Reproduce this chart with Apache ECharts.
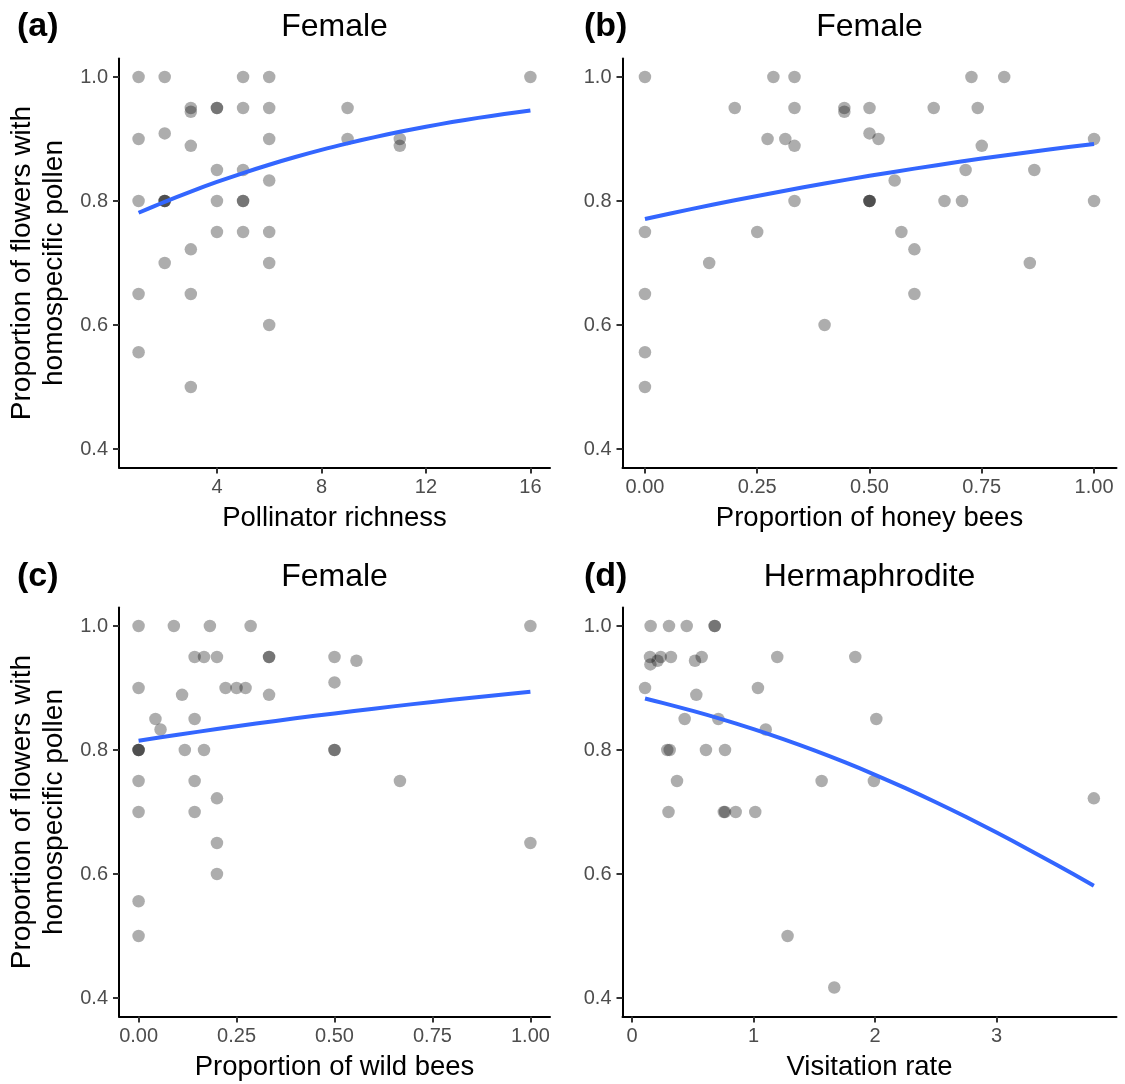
<!DOCTYPE html>
<html>
<head>
<meta charset="utf-8">
<script src="https://cdn.jsdelivr.net/npm/echarts@6/dist/echarts.min.js"></script>
<style>html,body{margin:0;padding:0;background:#fff;}#c{width:1125px;height:1084px;}</style>
</head>
<body>
<div id="c"></div>
<script>
// ---- Panel (a): Pollinator richness ----
const aX = [1,1,1,1,1, 2,2,2,2,2,2, 3,3,3,3,3,3, 4,4,4,4,4, 5,5,5,5,5,5, 6,6,6,6,6,6,6, 9,9, 11,11, 16];
const aY = [1.0,0.9,0.8,0.65,0.556, 1.0,0.909,0.8,0.8,0.8,0.7, 0.95,0.944,0.889,0.722,0.65,0.5, 0.95,0.95,0.85,0.8,0.75, 1.0,0.95,0.85,0.8,0.8,0.75, 1.0,0.95,0.9,0.833,0.75,0.7,0.6, 0.95,0.9, 0.9,0.889, 1.0];
const aFitX = [1,2,3,4,5,6,7,8,9,10,11,12,13,14,15,16];
const aFitY = [0.7811,0.7987,0.8152,0.8307,0.8451,0.8585,0.8709,0.8824,0.8929,0.9027,0.9116,0.9198,0.9273,0.9341,0.9403,0.9460];

// ---- Panel (b): Proportion of honey bees ----
const bX = [0,0.286,0.333,0.727,0.8, 0.2,0.333,0.444,0.444,0.5,0.643,0.741, 0.273,0.3125,0.52,1.0,0.5, 0.333,0.75, 0.714,0.867, 0.556, 0.333,0.5,0.5,0.5,0.667,0.706,1.0, 0,0.25,0.571, 0.6, 0.143,0.857, 0,0.6, 0.4, 0, 0];
const bY = [1.0,1.0,1.0,1.0,1.0, 0.95,0.95,0.95,0.944,0.95,0.95,0.95, 0.9,0.9,0.9,0.9,0.909, 0.889,0.889, 0.85,0.85, 0.833, 0.8,0.8,0.8,0.8,0.8,0.8,0.8, 0.75,0.75,0.75, 0.722, 0.7,0.7, 0.65,0.65, 0.6, 0.556, 0.5];
const bFitX = [0,0.1,0.2,0.3,0.4,0.5,0.6,0.7,0.8,0.9,1.0];
const bFitY = [0.771,0.7865,0.8012,0.815,0.8282,0.8406,0.8522,0.8632,0.8735,0.883,0.892];

// ---- Panel (c): Proportion of wild bees ----
const cX = [0,0.09,0.182,0.286,1.0, 0.143,0.167,0.2,0.333,0.333,0.5,0.556, 0.5, 0,0.222,0.25,0.273, 0.111,0.333, 0.043,0.143, 0.056, 0,0,0,0.118,0.167,0.5,0.5, 0,0.143,0.667, 0.2, 0,0.143, 0.2,1.0, 0.2, 0, 0];
const cY = [1.0,1.0,1.0,1.0,1.0, 0.95,0.95,0.95,0.95,0.95,0.95,0.944, 0.909, 0.9,0.9,0.9,0.9, 0.889,0.889, 0.85,0.85, 0.833, 0.8,0.8,0.8,0.8,0.8,0.8,0.8, 0.75,0.75,0.75, 0.722, 0.7,0.7, 0.65,0.65, 0.6, 0.556, 0.5];
const cFitX = [0,0.1,0.2,0.3,0.4,0.5,0.6,0.7,0.8,0.9,1.0];
const cFitY = [0.815,0.8246,0.8338,0.8426,0.8511,0.859,0.8667,0.874,0.8811,0.8876,0.894];

// ---- Panel (d): Visitation rate ----
const dX = [0.153,0.304,0.45,0.68,0.68, 0.148,0.236,0.32,0.573,1.195,1.837, 0.21,0.518,0.151, 0.107,1.036, 0.529, 0.433,0.71,2.01, 1.1, 0.29,0.31,0.608,0.765, 0.37,1.56,1.99, 3.8, 0.3,0.755,0.765,0.853,1.014, 1.28, 1.664];
const dY = [1.0,1.0,1.0,1.0,1.0, 0.95,0.95,0.95,0.95,0.95,0.95, 0.944,0.944,0.938, 0.9,0.9, 0.889, 0.85,0.85,0.85, 0.833, 0.8,0.8,0.8,0.8, 0.75,0.75,0.75, 0.722, 0.7,0.7,0.7,0.7,0.7, 0.5, 0.417];
const dFitX = [0.107,0.25,0.5,0.75,1.0,1.25,1.5,1.75,2.0,2.25,2.5,2.75,3.0,3.25,3.5,3.8];
const dFitY = [0.883,0.876,0.863,0.8489,0.8336,0.8171,0.7993,0.7803,0.760,0.7384,0.7157,0.6918,0.6669,0.6409,0.6141,0.581];

// ---- Tick labels, titles ----
const yTicks = [0.4,0.6,0.8,1.0];
const aTicks = [4,8,12,16];
const bTicks = [0,0.25,0.5,0.75,1];
const cTicks = [0,0.25,0.5,0.75,1];
const dTicks = [0,1,2,3];
const panelLabels = ['(a)','(b)','(c)','(d)'];
const panelTitles = ['Female','Female','Female','Hermaphrodite'];
const xTitles = ['Pollinator richness','Proportion of honey bees','Proportion of wild bees','Visitation rate'];
const yTitle = 'Proportion of flowers with\nhomospecific pollen';

const FONT = '"Liberation Sans", Arial, sans-serif';
const zip = (xs, ys) => xs.map((x, i) => [x, ys[i]]);

const grids = [
  {left: 119, top: 58.4, width: 431, height: 409.2},
  {left: 622.5, top: 58.4, width: 494, height: 409.2},
  {left: 119, top: 607.4, width: 431, height: 409.2},
  {left: 622.5, top: 607.4, width: 494, height: 409.2}
];
const xRanges = [[0.25,16.75],[-0.05,1.05],[-0.05,1.05],[-0.0785,3.9865]];
const xTickSets = [aTicks,bTicks,cTicks,dTicks];
const xFmt = [v => String(v), v => Number(v).toFixed(2), v => Number(v).toFixed(2), v => String(v)];

const axisLineStyle = {show: true, onZero: false, lineStyle: {color: '#000', width: 2}};
const axisTickStyle = (vals) => ({show: true, length: 6, lineStyle: {color: '#333', width: 2}, customValues: vals});

const xAxes = grids.map((g, i) => ({
  type: 'value', gridIndex: i, min: xRanges[i][0], max: xRanges[i][1],
  axisLine: axisLineStyle, axisTick: axisTickStyle(xTickSets[i]),
  axisLabel: {customValues: xTickSets[i], formatter: xFmt[i], color: '#4D4D4D', fontSize: 20, fontFamily: FONT, margin: 10},
  splitLine: {show: false},
  name: xTitles[i], nameLocation: 'middle', nameGap: 37,
  nameTextStyle: {color: '#000', fontSize: 27.5, fontFamily: FONT}
}));
const yAxes = grids.map((g, i) => ({
  type: 'value', gridIndex: i, min: 0.37, max: 1.03,
  axisLine: axisLineStyle, axisTick: axisTickStyle(yTicks),
  axisLabel: {customValues: yTicks, formatter: v => Number(v).toFixed(1), color: '#4D4D4D', fontSize: 20, fontFamily: FONT, margin: 11},
  splitLine: {show: false}
}));

const pts = [zip(aX,aY), zip(bX,bY), zip(cX,cY), zip(dX,dY)];
const fits = [zip(aFitX,aFitY), zip(bFitX,bFitY), zip(cFitX,cFitY), zip(dFitX,dFitY)];
const series = [];
for (let i = 0; i < 4; i++) {
  series.push({type: 'scatter', xAxisIndex: i, yAxisIndex: i, data: pts[i], symbolSize: 12.5,
    itemStyle: {color: 'rgba(0,0,0,0.4)'}, z: 2, animation: false});
  series.push({type: 'line', xAxisIndex: i, yAxisIndex: i, data: fits[i], smooth: 0.3,
    showSymbol: false, lineStyle: {color: '#3366FF', width: 4, join: 'round', cap: 'butt'}, z: 3, animation: false});
}

const graphics = [];
const labelPos = [[17,27],[584,27],[17,577],[584,577]];
for (let i = 0; i < 4; i++) {
  const g = grids[i];
  graphics.push({type: 'text', x: labelPos[i][0], y: labelPos[i][1],
    style: {text: panelLabels[i], font: 'bold 34px ' + FONT, fill: '#000', textAlign: 'left', textVerticalAlign: 'middle'}});
  graphics.push({type: 'text', x: g.left + g.width / 2, y: labelPos[i][1],
    style: {text: panelTitles[i], font: '32px ' + FONT, fill: '#000', textAlign: 'center', textVerticalAlign: 'middle'}});
}
[0, 2].forEach(i => {
  const g = grids[i];
  graphics.push({type: 'text', x: 38, y: g.top + g.height / 2, rotation: Math.PI / 2,
    style: {text: yTitle, font: '28px ' + FONT, fill: '#000', textAlign: 'center', textVerticalAlign: 'middle', lineHeight: 32}});
});

const chart = echarts.init(document.getElementById('c'), null, {renderer: 'canvas'});
chart.setOption({
  backgroundColor: '#fff',
  animation: false,
  grid: grids,
  xAxis: xAxes,
  yAxis: yAxes,
  series: series,
  graphic: graphics
});
</script>
</body>
</html>
